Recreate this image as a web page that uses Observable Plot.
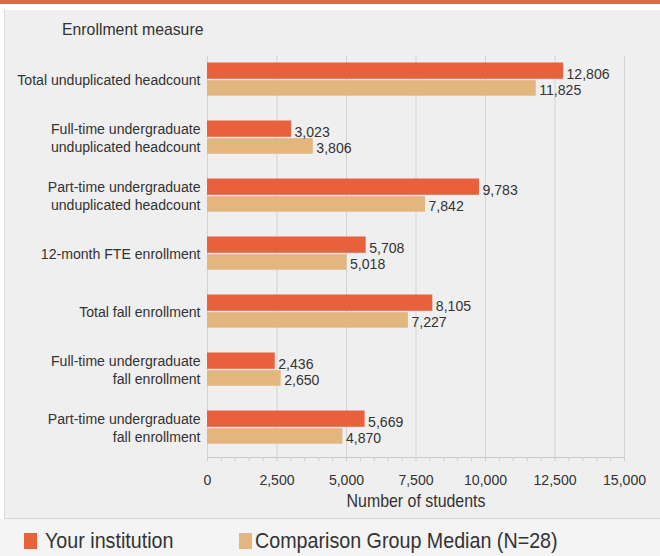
<!DOCTYPE html>
<html><head><meta charset="utf-8">
<script src="https://cdn.jsdelivr.net/npm/d3@7"></script>
<script src="https://cdn.jsdelivr.net/npm/@observablehq/plot@0.6"></script>
<style>
body{margin:0;background:#fff;}
#wrap{position:relative;width:660px;height:556px;overflow:hidden;background:#fff;font-family:"Liberation Sans",Arial,sans-serif;color:#333;}
#band{position:absolute;left:0;top:0;width:660px;height:4px;background:#dc6845;}
#panel{position:absolute;left:4px;top:10px;width:656px;height:509px;background:#efefef;border-left:1px solid #dadada;border-bottom:1px solid #d6d6d6;box-sizing:border-box;}
#legendbg{position:absolute;left:0;top:519px;width:660px;height:37px;background:#f4f4f4;}
#title{position:absolute;top:20px;left:62px;font-size:17px;color:#333;transform:scaleX(0.93);transform-origin:left top;white-space:nowrap;}
#chart{position:absolute;left:0;top:10px;}
.leg{position:absolute;top:529px;height:24px;font-size:22px;line-height:24px;color:#333;white-space:nowrap;transform:scaleX(0.895);transform-origin:left center;}
.sw{position:absolute;top:533px;width:13px;height:16px;}
</style></head>
<body><div id="wrap">
<div id="band"></div><div id="panel"></div><div id="legendbg"></div>
<div id="title">Enrollment measure</div>
<div id="chart"></div>
<span class="sw" style="left:24px;background:#e8603c"></span>
<div class="leg" style="left:45px">Your institution</div>
<span class="sw" style="left:239px;background:#e3b57f"></span>
<div class="leg" style="left:255px">Comparison Group Median (N=28)</div>
</div>
<script>
const measures = [
  "Total unduplicated headcount",
  "Full-time undergraduate\nunduplicated headcount",
  "Part-time undergraduate\nunduplicated headcount",
  "12-month FTE enrollment",
  "Total fall enrollment",
  "Full-time undergraduate\nfall enrollment",
  "Part-time undergraduate\nfall enrollment"
];
const institution = [12806, 3023, 9783, 5708, 8105, 2436, 5669];
const comparison = [11825, 3806, 7842, 5018, 7227, 2650, 4870];
const xTicks = [0, 2500, 5000, 7500, 10000, 12500, 15000];
const minorTicks = d3.range(0, 15001, 500);

const inst = measures.map((m, i) => ({measure: m, value: institution[i]}));
const comp = measures.map((m, i) => ({measure: m, value: comparison[i]}));
const fmt = d3.format(",");
const FS = 15.5;

const chart = Plot.plot({
  width: 660, height: 508,
  marginLeft: 207, marginRight: 36, marginTop: 38, marginBottom: 61,
  style: {background: "transparent", fontFamily: '"Liberation Sans",Arial,sans-serif', fontSize: FS + "px", color: "#333"},
  x: {domain: [0, 15000], label: null},
  y: {domain: measures, padding: 0, label: null},
  marks: [
    Plot.gridX(xTicks, {stroke: "#d3d3d3", strokeOpacity: 1, insetTop: 8}),
    Plot.frame({anchor: "bottom", stroke: "#c9c9c9"}),
    Plot.axisX({ticks: minorTicks, tickSize: 4, tickFormat: () => "", stroke: "#cccccc", label: null}),
    Plot.axisX({ticks: xTicks, tickFormat: fmt, tickSize: 0, tickPadding: 16, fontSize: FS, label: null}),
    Plot.axisX({ticks: [], tickSize: 0, fontSize: 17.5, label: "Number of students", labelAnchor: "center", labelOffset: 49, labelArrow: "none"}),
    Plot.axisY({tickSize: 0, tickPadding: 7, fontSize: FS, label: null, lineHeight: 1.18}),
    Plot.barX(inst, {x: "value", y: "measure", fill: "#e8603c", insetTop: 12.5, insetBottom: 29.2}),
    Plot.barX(comp, {x: "value", y: "measure", fill: "#e3b57f", insetTop: 30.2, insetBottom: 12.3}),
    Plot.text(inst, {x: "value", y: "measure", text: d => fmt(d.value), textAnchor: "start", dx: 3, dy: -5, fill: "#333", fontSize: FS}),
    Plot.text(comp, {x: "value", y: "measure", text: d => fmt(d.value), textAnchor: "start", dx: 3, dy: 11, fill: "#333", fontSize: FS})
  ]
});
// emulate the condensed typeface of the reference
chart.querySelectorAll("text").forEach(t => {
  const tr = t.getAttribute("transform");
  if (tr) t.setAttribute("transform", tr + " scale(0.91,1)");
});
document.getElementById("chart").appendChild(chart);
</script>
</body></html>
